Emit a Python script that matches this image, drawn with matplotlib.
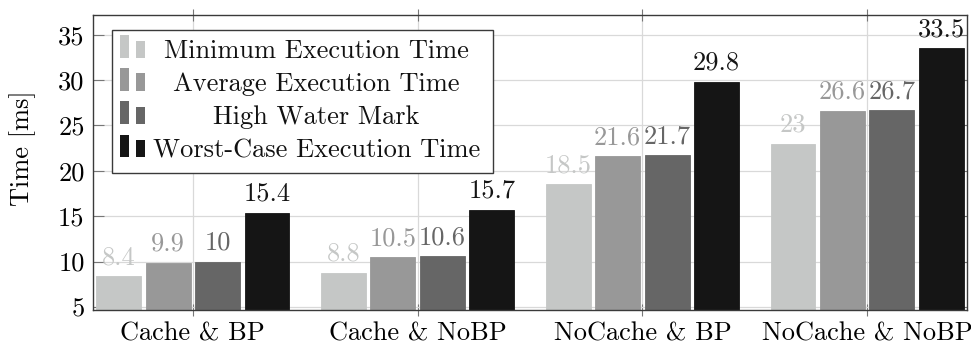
import matplotlib
matplotlib.use("Agg")
import matplotlib.pyplot as plt
from matplotlib.patches import Rectangle
import numpy as np

plt.rcParams["font.family"] = ["cmr10", "DejaVu Serif"]
plt.rcParams["axes.formatter.use_mathtext"] = True
plt.rcParams["mathtext.fontset"] = "cm"

categories = ["Cache & BP", "Cache & NoBP", "NoCache & BP", "NoCache & NoBP"]
series_names = ["Minimum Execution Time", "Average Execution Time",
                "High Water Mark", "Worst-Case Execution Time"]
min_time = [8.4, 8.8, 18.5, 23]
avg_time = [9.9, 10.5, 21.6, 26.6]
high_water = [10, 10.6, 21.7, 26.7]
worst_case = [15.4, 15.7, 29.8, 33.5]
yticks = [5, 10, 15, 20, 25, 30, 35]

series = [min_time, avg_time, high_water, worst_case]
colors = ["#c5c7c6", "#989898", "#666666", "#151515"]

FS = 19

fig = plt.figure(figsize=(9.71, 3.46), dpi=100)
ax = fig.add_axes([93 / 971, 36 / 346, 874 / 971, 295.3 / 346])

x = np.arange(len(categories))
width = 0.2
step = 0.22
for i, (vals, col) in enumerate(zip(series, colors)):
    pos = x + (i - 1.5) * step
    bars = ax.bar(pos, vals, width, color=col, edgecolor=col, linewidth=0.6,
                  zorder=2)
    for b, v in zip(bars, vals):
        ax.annotate(f"{v:g}", (b.get_x() + b.get_width() / 2, v),
                    xytext=(0, 7), textcoords="offset pixels",
                    ha="center", va="bottom", fontsize=FS, color=col,
                    zorder=3)

ax.set_xlim(-0.444, 3.444)
ax.set_ylim(4.67, 37.2)
ax.set_xticks(x)
ax.set_xticklabels(categories, fontsize=FS)
ax.set_yticks(yticks)
ax.set_yticklabels([str(t) for t in yticks], fontsize=FS)
ax.grid(True, color="#d9d9d9", linewidth=0.9, zorder=0)
ax.set_axisbelow(True)
for s in ax.spines.values():
    s.set_color("#3a3a3a")
    s.set_linewidth(1.0)
ax.tick_params(axis="x", direction="inout", length=9, width=0.8,
               color="#777777", pad=4, top=True)
ax.tick_params(axis="y", direction="in", length=8, width=0.8,
               color="#777777", pad=6, right=True)

ax.set_ylabel("Time [ms]", fontsize=FS, va="center")
ax.yaxis.set_label_coords(-0.080, 0.547)

# legend box with paired bar glyphs and centred entries
def ax_x(px):
    return (px - 93) / 874

def ax_y(py):
    return (310 - py) / 295.3

ax.add_patch(Rectangle((ax_x(112), ax_y(173)), ax_x(493) - ax_x(112),
                       ax_y(30) - ax_y(173), transform=ax.transAxes,
                       facecolor="white", edgecolor="#3a3a3a",
                       linewidth=1.0, zorder=5))
row_base = [58, 90.7, 124, 157.3]
for name, col, yb in zip(series_names, colors, row_base):
    ax.add_patch(Rectangle((ax_x(120), ax_y(yb)), ax_x(129) - ax_x(120),
                           ax_y(yb - 22.7) - ax_y(yb), transform=ax.transAxes,
                           facecolor=col, edgecolor="none", zorder=6))
    ax.add_patch(Rectangle((ax_x(136), ax_y(yb)), ax_x(145) - ax_x(136),
                           ax_y(yb - 17.3) - ax_y(yb), transform=ax.transAxes,
                           facecolor=col, edgecolor="none", zorder=6))
    ax.text(ax_x(316.5), ax_y(yb), name, transform=ax.transAxes,
            ha="center", va="baseline", fontsize=FS, color="#111111",
            zorder=7)

fig.savefig("out.png", dpi=100)
